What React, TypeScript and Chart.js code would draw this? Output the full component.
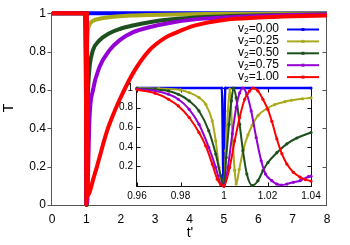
import React, { useEffect, useRef } from "react";
import { Chart, registerables } from "chart.js";

Chart.register(...registerables);

const W = 350;
const H = 245;
const FONT = "'Liberation Sans', Arial, Helvetica, sans-serif";

const SERIES_LABELS = ["0.00", "0.25", "0.50", "0.75", "1.00"];
const SERIES_COLORS = ["#0000ff", "#a9a91c", "#1e4f1e", "#9400d3", "#ff0000"];

const MAIN_X_TICKS = [0, 1, 2, 3, 4, 5, 6, 7, 8];
const MAIN_Y_TICKS = [0, 0.2, 0.4, 0.6, 0.8, 1];
const MAIN_Y_LABELS = ["0", "0.2", "0.4", "0.6", "0.8", "1"];
const INSET_X_TICKS = [0.96, 0.98, 1, 1.02, 1.04];
const INSET_X_LABELS = ["0.96", "0.98", "1", "1.02", "1.04"];
const INSET_Y_TICKS = [0.2, 0.4, 0.6, 0.8, 1];
const INSET_Y_LABELS = ["0.2", "0.4", "0.6", "0.8", "1"];

// ---- main panel (t' from 0 to 8) ----
const mainT0 = [0, 0.999, 1.0, 1.001, 8];
const mainY0 = [1, 1, 0, 1, 1];

const mainT1 = [0, 0.97, 0.984, 0.9946, 0.999, 1.0, 1.0027, 1.0056, 1.011, 1.0197, 1.04, 1.08, 1.14, 1.25, 1.38, 1.6, 1.87, 2.3, 2.83, 4, 5, 6.5, 8];
const mainY1 = [1, 1, 0.953, 0.664, 0.04, 0, 0.99, 0.02, 0.52, 0.79, 0.9, 0.935, 0.953, 0.965, 0.971, 0.978, 0.983, 0.988, 0.991, 0.995, 0.997, 0.998, 0.999];

const mainT2 = [0, 0.96, 0.979, 0.9885, 0.993, 0.9985, 1.0, 1.0044, 1.013, 1.0202, 1.04, 1.06, 1.1, 1.19, 1.38, 1.67, 1.99, 2.35, 2.83, 3.5, 4.5, 5.5, 6.5, 8];
const mainY2 = [1, 1, 0.936, 0.766, 0.563, 0.105, 0, 1.0, 0.005, 0.24, 0.546, 0.64, 0.73, 0.806, 0.858, 0.896, 0.919, 0.936, 0.953, 0.968, 0.98, 0.987, 0.991, 0.995];

const mainT3 = [0, 0.95, 0.979, 0.9885, 0.9962, 1.0, 1.0087, 1.0265, 1.04, 1.06, 1.093, 1.19, 1.38, 1.67, 1.99, 2.35, 2.83, 3.5, 4.52, 5.97, 7, 8];
const mainY3 = [1, 1, 0.885, 0.63, 0.19, 0, 1.0, 0.01, 0.1, 0.25, 0.459, 0.598, 0.719, 0.806, 0.862, 0.9, 0.927, 0.952, 0.973, 0.985, 0.99, 0.993];

const mainT4 = [0, 0.94, 0.96, 0.979, 0.9885, 0.9946, 1.0, 1.0133, 1.03, 1.04, 1.1, 1.2, 1.3, 1.4, 1.5, 1.6, 1.7, 1.8, 1.96, 2.35, 2.83, 3.32, 3.56, 4.14, 5, 6, 7, 8];
const mainY4 = [1, 1, 0.982, 0.817, 0.546, 0.224, 0, 1.0, 0.2, 0.05, 0.07, 0.135, 0.195, 0.26, 0.325, 0.385, 0.435, 0.48, 0.546, 0.685, 0.806, 0.875, 0.895, 0.935, 0.965, 0.977, 0.984, 0.988];

// ---- inset panel (t' from 0.96 to 1.04) ----
const insetX0 = [0.96, 0.999, 0.9998, 1.0006, 1.04];
const insetY0 = [1, 1, 0, 1, 1];

const insetX1 = [0.96, 0.97, 0.98, 0.984, 0.9885, 0.9916, 0.9946, 0.9962, 0.9977, 0.999, 1.0, 1.0008, 1.0018, 1.0027, 1.0038, 1.0049, 1.0056, 1.007, 1.009, 1.011, 1.013, 1.0157, 1.0197, 1.0233, 1.028, 1.031, 1.036, 1.04];
const insetY1 = [1.0, 0.995, 0.98, 0.953, 0.902, 0.834, 0.664, 0.46, 0.19, 0.04, 0.0, 0.36, 0.766, 0.99, 0.55, 0.16, 0.02, 0.17, 0.38, 0.52, 0.62, 0.72, 0.79, 0.83, 0.86, 0.875, 0.89, 0.9];

const insetX2 = [0.96, 0.9684, 0.9745, 0.979, 0.984, 0.9885, 0.993, 0.9962, 0.9985, 1.0, 1.001, 1.0023, 1.0034, 1.0044, 1.0056, 1.0072, 1.0087, 1.0105, 1.013, 1.0156, 1.0179, 1.0202, 1.0243, 1.0289, 1.0335, 1.04];
const insetY2 = [0.995, 0.985, 0.97, 0.936, 0.868, 0.766, 0.563, 0.326, 0.105, 0.0, 0.29, 0.63, 0.868, 1.0, 0.9, 0.63, 0.36, 0.122, 0.005, 0.054, 0.156, 0.24, 0.34, 0.43, 0.49, 0.546];

const insetX3 = [0.96, 0.9684, 0.9745, 0.979, 0.984, 0.9885, 0.993, 0.9962, 0.9985, 1.0, 1.0018, 1.0038, 1.0056, 1.0072, 1.0087, 1.0105, 1.0125, 1.0148, 1.0171, 1.0191, 1.022, 1.0243, 1.0265, 1.0289, 1.0319, 1.035, 1.0388, 1.04];
const insetY3 = [0.99, 0.97, 0.936, 0.885, 0.783, 0.63, 0.394, 0.19, 0.02, 0.0, 0.19, 0.53, 0.8, 0.95, 1.0, 0.936, 0.766, 0.495, 0.257, 0.122, 0.054, 0.02, 0.01, 0.02, 0.038, 0.054, 0.095, 0.1];

const insetX4 = [0.96, 0.9684, 0.9745, 0.979, 0.984, 0.9885, 0.9916, 0.9946, 0.9969, 0.9985, 1.0, 1.0026, 1.0049, 1.0072, 1.0095, 1.0118, 1.0133, 1.0156, 1.0179, 1.0202, 1.022, 1.0243, 1.0266, 1.0289, 1.0319, 1.035, 1.0375, 1.04];
const insetY4 = [0.982, 0.946, 0.885, 0.817, 0.699, 0.546, 0.41, 0.224, 0.07, 0.015, 0.0, 0.19, 0.46, 0.7, 0.885, 0.97, 1.0, 0.97, 0.885, 0.78, 0.66, 0.48, 0.33, 0.224, 0.14, 0.09, 0.065, 0.05];

const MAIN_X = [mainT0, mainT1, mainT2, mainT3, mainT4];
const MAIN_Y = [mainY0, mainY1, mainY2, mainY3, mainY4];
const INSET_X = [insetX0, insetX1, insetX2, insetX3, insetX4];
const INSET_Y = [insetY0, insetY1, insetY2, insetY3, insetY4];

const pts = (xs: number[], ys: number[]) => xs.map((x, i) => ({ x, y: ys[i] }));

const mainFrame = {
  id: "mainFrame",
  beforeDatasetsDraw(chart: any) {
    const { ctx, chartArea: a, scales } = chart;
    ctx.save();
    ctx.strokeStyle = "#555";
    ctx.lineWidth = 1;
    const L = Math.round(a.left) - 0.5;
    const R = Math.round(a.right) - 0.5;
    const T = Math.round(a.top) - 0.5;
    const B = Math.round(a.bottom) + 0.5;
    ctx.strokeRect(L, T, R - L, B - T);
    ctx.beginPath();
    MAIN_Y_TICKS.forEach((v) => {
      const y = Math.round(scales.y.getPixelForValue(v)) + 0.5;
      ctx.moveTo(L - 4, y);
      ctx.lineTo(L, y);
      ctx.moveTo(R - 4, y);
      ctx.lineTo(R, y);
    });
    ctx.stroke();
    ctx.restore();
  },
  afterDatasetsDraw(chart: any) {
    const { ctx } = chart;
    ctx.save();
    ctx.fillStyle = "#000";
    ctx.font = `14px ${FONT}`;
    ctx.textAlign = "center";
    ctx.textBaseline = "middle";
    ctx.save();
    ctx.translate(9, 108);
    ctx.rotate(-Math.PI / 2);
    ctx.fillText("T", 0, 0);
    ctx.restore();
    ctx.fillText("t'", 190, 233);

    // key
    const xr = 279;
    SERIES_LABELS.forEach((lab, i) => {
      const y = 29 + i * 11.9;
      ctx.textAlign = "left";
      ctx.textBaseline = "middle";
      ctx.font = `12px ${FONT}`;
      const rest = "=" + lab;
      const wv = ctx.measureText("v").width;
      const wr = ctx.measureText(rest).width;
      ctx.font = `8.5px ${FONT}`;
      const ws = ctx.measureText("2").width;
      const x0 = xr - wv - ws - wr;
      ctx.font = `12px ${FONT}`;
      ctx.fillText("v", x0, y);
      ctx.font = `8.5px ${FONT}`;
      ctx.fillText("2", x0 + wv, y + 3);
      ctx.font = `12px ${FONT}`;
      ctx.fillText(rest, x0 + wv + ws, y);
      ctx.strokeStyle = SERIES_COLORS[i];
      ctx.lineWidth = 2;
      ctx.beginPath();
      ctx.moveTo(287, y + 0.5);
      ctx.lineTo(319, y + 0.5);
      ctx.stroke();
      ctx.fillStyle = SERIES_COLORS[i];
      ctx.fillRect(301.5, y - 1, 3, 3);
      ctx.fillStyle = "#000";
    });
    ctx.restore();
  },
};

const insetFrame = {
  id: "insetFrame",
  beforeDatasetsDraw(chart: any) {
    const { ctx, chartArea: a, scales } = chart;
    ctx.save();
    ctx.strokeStyle = "#111";
    ctx.lineWidth = 1;
    const L = Math.round(a.left) - 0.5;
    const R = Math.round(a.right) + 0.5;
    const T = Math.round(a.top) + 0.5;
    const B = Math.round(a.bottom) + 0.5;
    ctx.strokeRect(L, T, R - L, B - T);
    ctx.beginPath();
    INSET_Y_TICKS.forEach((v) => {
      const y = Math.round(scales.y.getPixelForValue(v)) + 0.5;
      ctx.moveTo(L, y);
      ctx.lineTo(L + 4, y);
      ctx.moveTo(R - 4, y);
      ctx.lineTo(R, y);
    });
    INSET_X_TICKS.forEach((v) => {
      const x = Math.round(scales.x.getPixelForValue(v)) + 0.5;
      ctx.moveTo(x, B);
      ctx.lineTo(x, B - 4);
      ctx.moveTo(x, T);
      ctx.lineTo(x, T + 4);
    });
    ctx.stroke();
    ctx.restore();
  },
};

function mainConfig(): any {
  return {
    type: "scatter",
    data: {
      datasets: MAIN_X.map((xs, i) => ({
        label: "v2=" + SERIES_LABELS[i],
        data: pts(xs, MAIN_Y[i]),
        showLine: true,
        borderColor: SERIES_COLORS[i],
        backgroundColor: SERIES_COLORS[i],
        borderWidth: 4,
        pointRadius: 0,
        cubicInterpolationMode: "monotone",
        clip: false,
        order: 5 - i,
      })),
    },
    options: {
      animation: false,
      responsive: false,
      maintainAspectRatio: false,
      events: [],
      layout: { padding: { left: 0, right: 23, top: 13, bottom: 0 } },
      plugins: { legend: { display: false }, tooltip: { enabled: false }, title: { display: false } },
      scales: {
        x: {
          type: "linear",
          min: 0,
          max: 8,
          afterBuildTicks: (s: any) => {
            s.ticks = MAIN_X_TICKS.map((v) => ({ value: v }));
          },
          afterFit: (s: any) => {
            s.height = 40;
          },
          grid: { display: false, drawTicks: false },
          border: { display: false },
          ticks: {
            font: { family: FONT, size: 12 },
            color: "#000",
            padding: 7,
            maxRotation: 0,
            autoSkip: false,
            callback: (v: any, i: number) => String(MAIN_X_TICKS[i]),
          },
        },
        y: {
          type: "linear",
          min: 0,
          max: 1,
          afterBuildTicks: (s: any) => {
            s.ticks = MAIN_Y_TICKS.map((v) => ({ value: v }));
          },
          afterFit: (s: any) => {
            s.width = 52;
          },
          grid: { display: false, drawTicks: false },
          border: { display: false },
          ticks: {
            font: { family: FONT, size: 12 },
            color: "#000",
            padding: 6,
            autoSkip: false,
            callback: (v: any, i: number) => MAIN_Y_LABELS[i],
          },
        },
      },
    },
    plugins: [mainFrame],
  };
}

function insetConfig(): any {
  return {
    type: "scatter",
    data: {
      datasets: INSET_X.map((xs, i) => ({
        label: "v2=" + SERIES_LABELS[i],
        data: pts(xs, INSET_Y[i]),
        showLine: true,
        borderColor: SERIES_COLORS[i],
        backgroundColor: SERIES_COLORS[i],
        borderWidth: i === 0 ? 2.4 : 2,
        pointRadius: 1.6,
        pointBorderWidth: 0,
        cubicInterpolationMode: "monotone",
        clip: false,
        order: 5 - i,
      })),
    },
    options: {
      animation: false,
      responsive: false,
      maintainAspectRatio: false,
      events: [],
      layout: { padding: { left: 0, right: 39, top: 88, bottom: 0 } },
      plugins: { legend: { display: false }, tooltip: { enabled: false }, title: { display: false } },
      scales: {
        x: {
          type: "linear",
          min: 0.96,
          max: 1.04,
          afterBuildTicks: (s: any) => {
            s.ticks = INSET_X_TICKS.map((v) => ({ value: v }));
          },
          afterFit: (s: any) => {
            s.height = 59;
          },
          grid: { display: false, drawTicks: false },
          border: { display: false },
          ticks: {
            font: { family: FONT, size: 10 },
            color: "#000",
            padding: 4,
            maxRotation: 0,
            autoSkip: false,
            callback: (v: any, i: number) => INSET_X_LABELS[i],
          },
        },
        y: {
          type: "linear",
          min: 0,
          max: 1,
          afterBuildTicks: (s: any) => {
            s.ticks = INSET_Y_TICKS.map((v) => ({ value: v }));
          },
          afterFit: (s: any) => {
            s.width = 137;
          },
          grid: { display: false, drawTicks: false },
          border: { display: false },
          ticks: {
            font: { family: FONT, size: 10 },
            color: "#000",
            padding: 4,
            autoSkip: false,
            callback: (v: any, i: number) => INSET_Y_LABELS[i],
          },
        },
      },
    },
    plugins: [insetFrame],
  };
}

export default function App() {
  const mainRef = useRef<HTMLCanvasElement | null>(null);
  const insetRef = useRef<HTMLCanvasElement | null>(null);

  useEffect(() => {
    const c1 = new Chart(mainRef.current as HTMLCanvasElement, mainConfig());
    const c2 = new Chart(insetRef.current as HTMLCanvasElement, insetConfig());
    return () => {
      c1.destroy();
      c2.destroy();
    };
  }, []);

  const cs: React.CSSProperties = { position: "absolute", left: 0, top: 0, width: W, height: H, display: "block" };
  return (
    <div style={{ position: "absolute", left: 0, top: 0, width: W, height: H, background: "#fff", overflow: "hidden" }}>
      <canvas ref={mainRef} width={W} height={H} style={cs} />
      <canvas ref={insetRef} width={W} height={H} style={{ ...cs, pointerEvents: "none" }} />
    </div>
  );
}
